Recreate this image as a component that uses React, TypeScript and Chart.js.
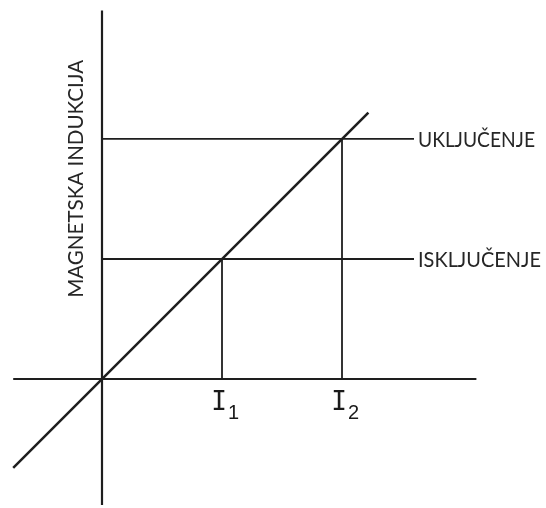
import React, { useEffect, useRef } from "react";
import { Chart, registerables } from "chart.js";

Chart.register(...registerables);

// Axis value ranges (data units: I1 = 1, ISKLJUČENJE level = 1)
const VIEW_X = [-0.85, 3.7];
const VIEW_Y = [-1.075, 3.158];
const X_AXIS_EXTENT = [-0.74, 3.12];
const Y_AXIS_EXTENT = [-1.05, 3.07];
const DIAGONAL_EXTENT = [-0.74, 2.22];
const LEVEL_LINE_END = 2.6;

// Currents and induction levels
const currents = [1, 2];
const currentLabels = ["I", "I"];
const currentSubs = ["1", "2"];
const levels = [1, 2];
const levelLabels = ["ISKLJUČENJE", "UKLJUČENJE"];
const yTitle = "MAGNETSKA INDUKCIJA";

const INK = "#1e1e1e";
const TEXT_FONT = "22px Lato";
const LEVEL_LABEL_MAX_W = [123, 117];
const TITLE_MAX_W = 238;

const labelsPlugin = {
  id: "labels",
  afterDraw(chart: any) {
    const ctx = chart.ctx;
    const xs = chart.scales.x;
    const ys = chart.scales.y;
    ctx.save();
    ctx.fillStyle = "#262626";
    // level labels
    ctx.font = TEXT_FONT;
    ctx.textAlign = "left";
    ctx.textBaseline = "middle";
    levels.forEach((lv, i) => {
      ctx.fillText(levelLabels[i], xs.getPixelForValue(LEVEL_LINE_END) + 4, ys.getPixelForValue(lv) + 1, LEVEL_LABEL_MAX_W[i]);
    });
    // current labels
    ctx.fillStyle = "#1a1a1a";
    currents.forEach((c, i) => {
      const px = xs.getPixelForValue(c);
      const py = ys.getPixelForValue(0);
      ctx.font = "26px 'DejaVu Sans Mono'";
      ctx.textAlign = "center";
      ctx.textBaseline = "alphabetic";
      ctx.fillText(currentLabels[i], px - 3, py + 31);
      ctx.font = "20px 'Liberation Sans'";
      ctx.textAlign = "left";
      ctx.fillText(currentSubs[i], px + 6, py + 40);
    });
    // y title
    ctx.fillStyle = "#262626";
    ctx.translate(xs.getPixelForValue(0) - 26, (ys.getPixelForValue(Y_AXIS_EXTENT[1]) + ys.getPixelForValue(0)) / 2 - 16);
    ctx.rotate(-Math.PI / 2);
    ctx.font = TEXT_FONT;
    ctx.textAlign = "center";
    ctx.textBaseline = "middle";
    ctx.fillText(yTitle, 0, 0, TITLE_MAX_W);
    ctx.restore();
  },
};

function seg(data: { x: number; y: number }[], width: number) {
  return {
    data,
    showLine: true,
    borderColor: INK,
    borderWidth: width,
    pointRadius: 0,
    fill: false,
    clip: false as any,
  };
}

export default function App() {
  const ref = useRef<HTMLCanvasElement>(null);
  useEffect(() => {
    if (!ref.current) return;
    const datasets: any[] = [
      seg([{ x: X_AXIS_EXTENT[0], y: 0 }, { x: X_AXIS_EXTENT[1], y: 0 }], 2.2),
      seg([{ x: 0, y: Y_AXIS_EXTENT[0] }, { x: 0, y: Y_AXIS_EXTENT[1] }], 2.2),
      seg([{ x: DIAGONAL_EXTENT[0], y: DIAGONAL_EXTENT[0] }, { x: DIAGONAL_EXTENT[1], y: DIAGONAL_EXTENT[1] }], 2.5),
    ];
    levels.forEach((lv) => datasets.push(seg([{ x: 0, y: lv }, { x: LEVEL_LINE_END, y: lv }], 1.8)));
    currents.forEach((c) => datasets.push(seg([{ x: c, y: 0 }, { x: c, y: c }], 1.8)));
    const chart = new Chart(ref.current, {
      type: "scatter",
      data: { datasets },
      options: {
        animation: false,
        responsive: false,
        layout: { padding: 0 },
        plugins: { legend: { display: false }, tooltip: { enabled: false } },
        scales: {
          x: { type: "linear", display: false, min: VIEW_X[0], max: VIEW_X[1] },
          y: { type: "linear", display: false, min: VIEW_Y[0], max: VIEW_Y[1] },
        },
      },
      plugins: [labelsPlugin],
    });
    return () => chart.destroy();
  }, []);
  return (
    <div style={{ position: "fixed", left: 0, top: 0, width: 546, height: 508, background: "#fff" }}>
      <canvas ref={ref} width={546} height={508} style={{ display: "block" }} />
    </div>
  );
}
